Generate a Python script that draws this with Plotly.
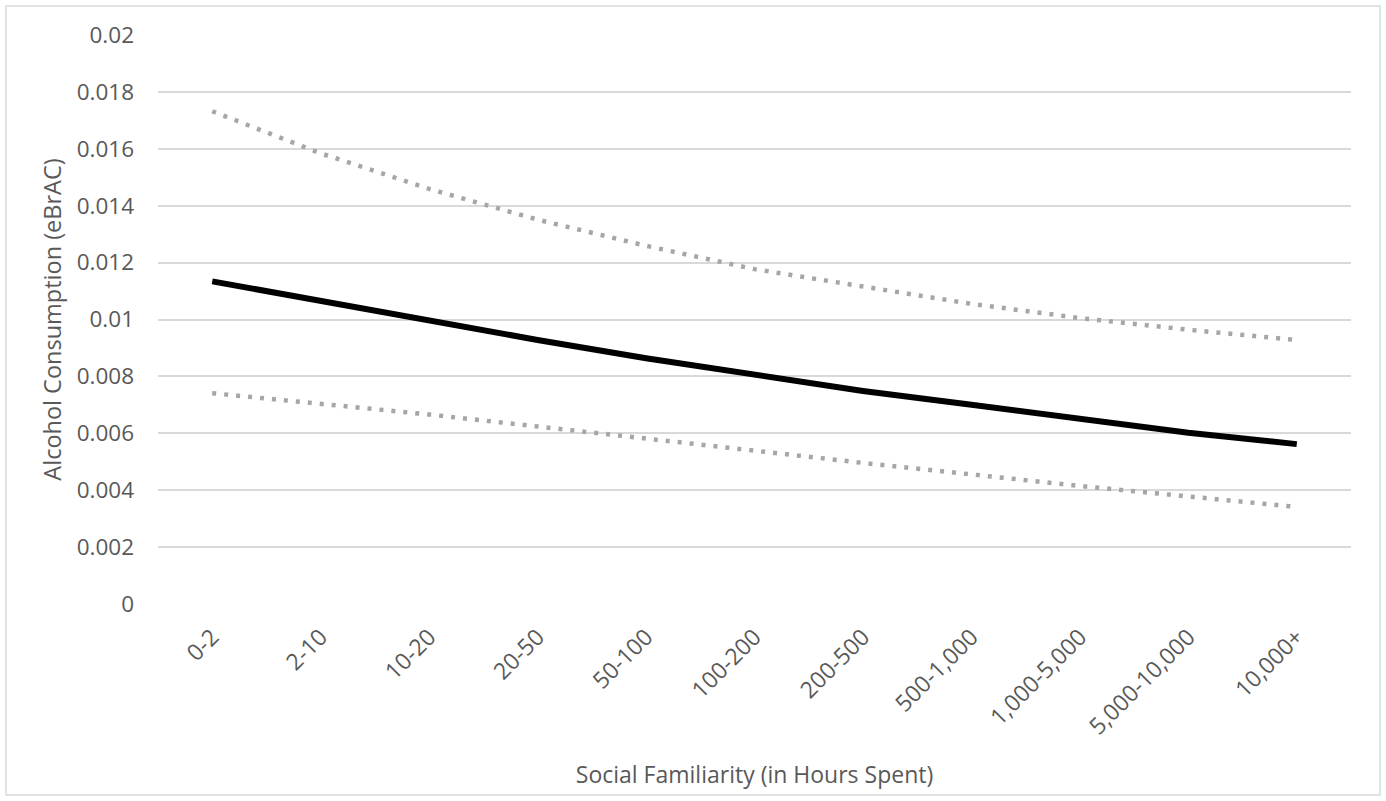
import plotly.graph_objects as go

# Hours-spent bins on the x axis
categories = ["0-2", "2-10", "10-20", "20-50", "50-100", "100-200", "200-500",
              "500-1,000", "1,000-5,000", "5,000-10,000", "10,000+"]

# Predicted alcohol consumption (eBrAC) and its confidence bounds
predicted = [0.01134, 0.01064, 0.00993, 0.00928, 0.00864, 0.00806, 0.00749,
             0.00700, 0.00651, 0.00602, 0.00562]
upper_bound = [0.01732, 0.01584, 0.01459, 0.01351, 0.01259, 0.01177, 0.01116,
               0.01055, 0.01005, 0.00964, 0.00928]
lower_bound = [0.00741, 0.00704, 0.00666, 0.00624, 0.00583, 0.00539, 0.00496,
               0.00455, 0.00415, 0.00378, 0.00341]

y_ticks = [0, 0.002, 0.004, 0.006, 0.008, 0.01, 0.012, 0.014, 0.016, 0.018, 0.02]
y_tick_text = ["0", "0.002", "0.004", "0.006", "0.008", "0.01", "0.012",
               "0.014", "0.016", "0.018", "0.02"]

FONT = "'Open Sans', Lato, sans-serif"
TEXT_COLOR = "#595959"
GRID_COLOR = "#d9d9d9"
BOUND_COLOR = "#a6a6a6"

fig = go.Figure()

for bound in (upper_bound, lower_bound):
    fig.add_trace(go.Scatter(
        x=categories, y=bound, mode="lines",
        line=dict(color=BOUND_COLOR, width=4.5, dash="4px,8px"),
        showlegend=False, hoverinfo="skip",
    ))

fig.add_trace(go.Scatter(
    x=categories, y=predicted, mode="lines",
    line=dict(color="black", width=6),
    showlegend=False,
))

fig.update_layout(
    width=1386, height=801,
    margin=dict(l=158, r=35, t=35, b=197),
    paper_bgcolor="white", plot_bgcolor="white",
    font=dict(family=FONT, size=22, color=TEXT_COLOR),
    xaxis=dict(
        type="category", range=[-0.5, 10.5],
        showgrid=False, showline=False, zeroline=False,
        tickangle=-45, ticks="", ticklabelstandoff=14,
        tickfont=dict(size=23, color=TEXT_COLOR),
        automargin=False,
        title=dict(text="Social Familiarity (in Hours Spent)", standoff=26,
                   font=dict(size=23, color=TEXT_COLOR)),
    ),
    yaxis=dict(
        range=[0, 0.02], tickvals=y_ticks, ticktext=y_tick_text,
        showgrid=True, gridcolor=GRID_COLOR, gridwidth=1.5,
        zeroline=False, showline=False, ticks="", ticklabelstandoff=23,
        tickfont=dict(size=22.5, color=TEXT_COLOR),
        automargin=False,
        title=dict(text="Alcohol Consumption (eBrAC)", standoff=8,
                   font=dict(size=23.5, color=TEXT_COLOR)),
    ),
    shapes=[dict(
        type="rect", xref="paper", yref="paper",
        x0=-0.1274, x1=1.0243, y0=-0.3357, y1=1.051,
        line=dict(color=GRID_COLOR, width=1.5), fillcolor="rgba(0,0,0,0)",
        layer="below",
    )],
)

fig.write_html("out.html")
